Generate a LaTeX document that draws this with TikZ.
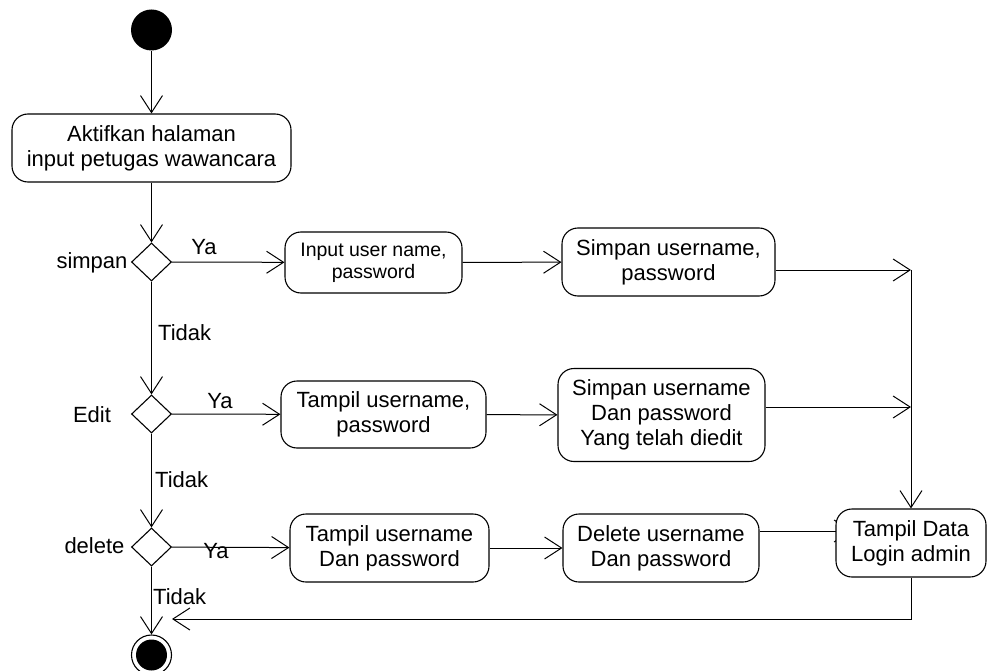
\documentclass[tikz,border=0pt]{standalone}
\usepackage{fontspec}
\setmainfont{Liberation Sans}
\usetikzlibrary{arrows.meta,shapes.geometric,backgrounds,calc}

\tikzset{
  every picture/.style={line width=1.1pt},
  act/.style={draw, fill=white, rounded corners=16pt, align=center,
    inner sep=0pt, font=\fontsize{22}{25}\selectfont},
  actsmall/.style={act, font=\fontsize{19.5}{22}\selectfont},
  choice/.style={draw, fill=white, shape=diamond, inner sep=0pt,
    minimum width=40pt, minimum height=38pt},
  lbl/.style={inner sep=0pt, font=\fontsize{22}{25}\selectfont},
  flow/.style={line width=1pt, -{Straight Barb[length=17pt, width=22pt, line width=1pt]}},
}

\begin{document}
\begin{tikzpicture}[x=1pt, y=-1pt]
  \useasboundingbox (0,0) rectangle (987,671);

  % start and final states
  \node[circle, fill=black, minimum size=41pt, inner sep=0pt] (start) at (151.5,30) {};
  \node[circle, draw, minimum size=40pt, inner sep=0pt] (end) at (151.5,655) {};
  \fill (end.center) circle (15.5pt);

  % activities
  \node[act, minimum width=279pt, minimum height=68pt] (akt) at (151.5,148)
    {Aktifkan halaman\\input petugas wawancara};
  \node[actsmall, minimum width=177pt, minimum height=61pt] (inp) at (373.5,262.5)
    {Input user name,\\password};
  \node[act, minimum width=213pt, minimum height=68pt] (sim1) at (668.5,262)
    {Simpan username,\\password};
  \node[act, minimum width=205pt, minimum height=67pt] (tam1) at (383.5,414.5)
    {Tampil username,\\password};
  \node[act, minimum width=207pt, minimum height=93pt] (sim2) at (661.5,415)
    {Simpan username\\Dan password\\Yang telah diedit};
  \node[act, minimum width=199pt, minimum height=68pt] (tam2) at (389.5,548)
    {Tampil username\\Dan password};
  \node[act, minimum width=196pt, minimum height=68pt] (del) at (661,548)
    {Delete username\\Dan password};
  \node[act, minimum width=150pt, minimum height=68pt] (data) at (911,543)
    {Tampil Data\\Login admin};

  % decisions
  \node[choice] (d1) at (151.5,262) {};
  \node[choice] (d2) at (151.5,414) {};
  \node[choice] (d3) at (151.5,547) {};

  % decision names
  \node[lbl, anchor=east] (n1) at (128,263) {simpan};
  \node[lbl] (n2) at (92,415) {Edit};
  \node[lbl, anchor=east] (n3) at (125,546) {delete};

  % junction points of the flows
  \coordinate (j1) at (911,270);
  \coordinate (j2) at (911,407);
  \coordinate (j3) at (836,531);
  \coordinate (k) at (172,619);

  % flows
  \draw[flow] (start) -- (akt);
  \draw[flow] (akt) -- (d1);
  \draw[flow] (d1) -- (inp);
  \draw[flow] (inp) -- (sim1);
  \draw[flow] (sim1.east |- j1) -- (j1);
  \draw[flow] (j1) -- (data.north);
  \draw[flow] (sim2.east |- j2) -- (j2);
  \draw[flow] (d1) -- (d2);
  \draw[flow] (d2) -- (tam1);
  \draw[flow] (tam1) -- (sim2);
  \draw[flow] (d2) -- (d3);
  \draw[flow] (d3) -- (tam2);
  \draw[flow] (tam2) -- (del);
  \begin{pgfonlayer}{background}
    \draw[flow] (del.east |- j3) -- ($(j3)+(16,0)$);
  \end{pgfonlayer}
  \draw[flow] (data.south) |- (k);
  \draw[flow] (d3) -- (end);

  % guard labels
  \node[lbl] (y1) at (204,247) {Ya};
  \node[lbl] (y2) at (220,401) {Ya};
  \node[lbl] (y3) at (216,551) {Ya};
  \node[lbl, anchor=west] (t1) at (158,333) {Tidak};
  \node[lbl, anchor=west] (t2) at (155,480) {Tidak};
  \node[lbl, anchor=west] (t3) at (153,597) {Tidak};
\end{tikzpicture}
\end{document}
